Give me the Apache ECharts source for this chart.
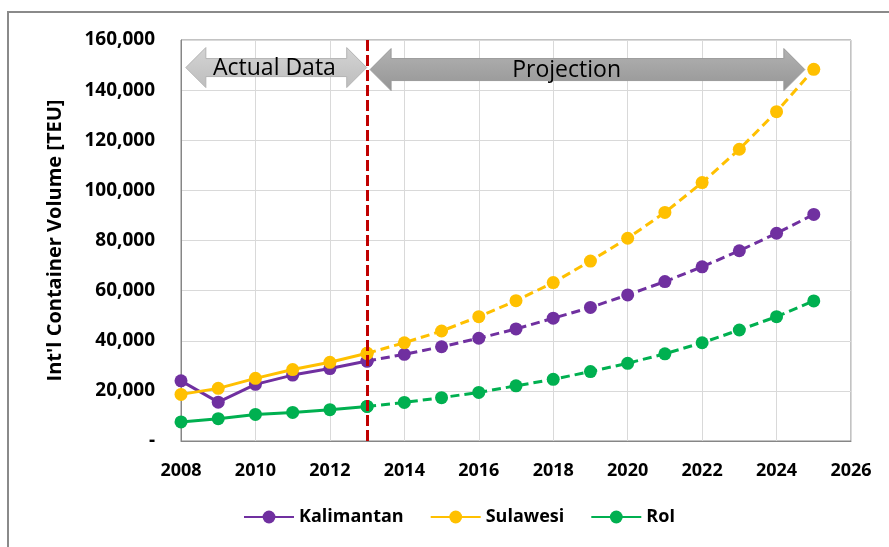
<!DOCTYPE html>
<html>
<head>
<meta charset="utf-8">
<script src="https://cdn.jsdelivr.net/npm/echarts@6/dist/echarts.min.js"></script>
<style>
  html, body { margin: 0; padding: 0; background: #fff; }
  #chart { width: 889px; height: 547px; }
</style>
</head>
<body>
<div id="chart"></div>
<script>
// Years covered: actual figures up to 2013, projections afterwards
const years = [2008, 2009, 2010, 2011, 2012, 2013, 2014, 2015, 2016, 2017, 2018, 2019, 2020, 2021, 2022, 2023, 2024, 2025];
const lastActualYear = 2013;

// International container volume [TEU]
const kalimantan = [24000, 15500, 22600, 26300, 28900, 31900, 34600, 37600, 41000, 44700, 49000, 53300, 58300, 63600, 69500, 75900, 82900, 90400];
const sulawesi   = [18600, 21000, 25000, 28500, 31400, 35000, 39200, 43900, 49600, 56000, 63200, 71800, 80900, 91200, 103100, 116400, 131400, 148300];
const roi        = [7600, 8900, 10600, 11400, 12500, 13800, 15400, 17300, 19400, 22000, 24600, 27700, 31000, 34800, 39200, 44300, 49600, 55900];

const seriesNames = ['Kalimantan', 'Sulawesi', 'RoI'];
const seriesColors = ['#7030A0', '#FFC000', '#00B050'];
const seriesValues = [kalimantan, sulawesi, roi];

// Period banners: [from year, to year, level, label centre year, text]
const periodStart = [2008.13, 2013.08];
const periodEnd   = [2012.99, 2024.76];
const periodLevel = [149000, 148200];
const periodTextX = [2010.51, 2018.36];
const periodText  = ['Actual Data', 'Projection'];

const FONT = '"Open Sans", "Liberation Sans", sans-serif';

const chart = echarts.init(document.getElementById('chart'), null, { renderer: 'canvas' });

function pairs(vals, from, to) {
  const out = [];
  years.forEach((y, i) => { if (y >= from && y <= to) out.push([y, vals[i]]); });
  return out;
}

const bannerStyles = [
  { body: 18, head: 40, headLen: 20,
    fill: new echarts.graphic.LinearGradient(0, 0, 0, 1, [{ offset: 0, color: '#d4d4d4' }, { offset: 1, color: '#bdbdbd' }]),
    stroke: '#b4b4b4' },
  { body: 22, head: 42, headLen: 21,
    fill: new echarts.graphic.LinearGradient(0, 0, 0, 1, [{ offset: 0, color: '#b2b2b2' }, { offset: 1, color: '#959595' }]),
    stroke: '#9a9a9a' }
];

const lineSeries = [];
seriesNames.forEach((name, k) => {
  const common = {
    name: name,
    type: 'line',
    symbol: 'circle',
    symbolSize: 13,
    color: seriesColors[k],
    itemStyle: { color: seriesColors[k] },
    z: 3
  };
  lineSeries.push(Object.assign({}, common, {
    data: pairs(seriesValues[k], years[0], lastActualYear),
    lineStyle: { width: 3, color: seriesColors[k], type: 'solid' }
  }));
  lineSeries.push(Object.assign({}, common, {
    data: pairs(seriesValues[k], lastActualYear, years[years.length - 1]),
    lineStyle: { width: 3, color: seriesColors[k], type: [9, 5] }
  }));
});

const option = {
  animation: false,
  backgroundColor: '#ffffff',
  graphic: [{
    type: 'rect',
    shape: { x: 8, y: 12, width: 1000, height: 700 },
    style: { fill: 'none', stroke: '#8a8a8a', lineWidth: 2 },
    silent: true,
    z: -1
  }],
  grid: {
    left: 181, right: 38, top: 40, bottom: 106,
    show: true, borderColor: '#868686', borderWidth: 1
  },
  legend: {
    data: seriesNames,
    left: 243, top: 508,
    padding: 0,
    itemWidth: 50, itemHeight: 16, itemGap: 26,
    textStyle: { fontFamily: FONT, fontWeight: 'bold', fontSize: 18, color: '#000' }
  },
  xAxis: {
    type: 'value',
    min: 2008, max: 2026, interval: 2,
    axisLine: { show: true, lineStyle: { color: '#868686', width: 1 } },
    axisTick: { show: false },
    splitLine: { show: true, lineStyle: { color: '#d9d9d9', width: 1 } },
    axisLabel: { fontFamily: FONT, fontWeight: 'bold', fontSize: 18, color: '#000', margin: 21,
      formatter: v => String(v) }
  },
  yAxis: {
    type: 'value',
    min: 0, max: 160000, interval: 20000,
    name: "Int'l Container Volume [TEU]",
    nameLocation: 'middle',
    nameGap: 116,
    nameTextStyle: { fontFamily: FONT, fontWeight: 'bold', fontSize: 20, color: '#000' },
    axisLine: { show: true, lineStyle: { color: '#868686', width: 1 } },
    axisTick: { show: false },
    splitLine: { show: true, lineStyle: { color: '#d9d9d9', width: 1 } },
    axisLabel: { fontFamily: FONT, fontWeight: 'bold', fontSize: 19, color: '#000', margin: 26,
      formatter: v => v === 0 ? '-' : v.toLocaleString('en-US') }
  },
  series: [
    {
      name: 'period-banners',
      type: 'custom',
      z: 1,
      silent: true,
      data: periodText.map((t, i) => [periodStart[i], periodEnd[i], periodLevel[i], periodTextX[i]]),
      encode: { x: [0, 1, 3], y: 2 },
      renderItem: function (params, api) {
        const i = params.dataIndex;
        const st = bannerStyles[i];
        const p0 = api.coord([api.value(0), api.value(2)]);
        const p1 = api.coord([api.value(1), api.value(2)]);
        const pt = api.coord([api.value(3), api.value(2)]);
        const x0 = p0[0], x1 = p1[0], y = p0[1];
        const h = st.body / 2, H = st.head / 2, L = st.headLen;
        const points = [
          [x0, y], [x0 + L, y - H], [x0 + L, y - h], [x1 - L, y - h], [x1 - L, y - H],
          [x1, y], [x1 - L, y + H], [x1 - L, y + h], [x0 + L, y + h], [x0 + L, y + H]
        ];
        return {
          type: 'group',
          children: [
            { type: 'polygon', shape: { points: points }, style: { fill: st.fill, stroke: st.stroke, lineWidth: 1 } },
            { type: 'text', style: { text: periodText[i], x: pt[0], y: y + 1, align: 'center', verticalAlign: 'middle',
              font: '23px ' + FONT, fill: '#000' } }
          ]
        };
      }
    },
    ...lineSeries,
    {
      name: 'projection-start',
      type: 'line',
      data: [],
      z: 10,
      silent: true,
      markLine: {
        silent: true,
        symbol: ['none', 'none'],
        label: { show: false },
        lineStyle: { color: '#C00000', width: 3, type: [11, 4] },
        data: [{ xAxis: lastActualYear }]
      }
    }
  ]
};

chart.setOption(option);
</script>
</body>
</html>
